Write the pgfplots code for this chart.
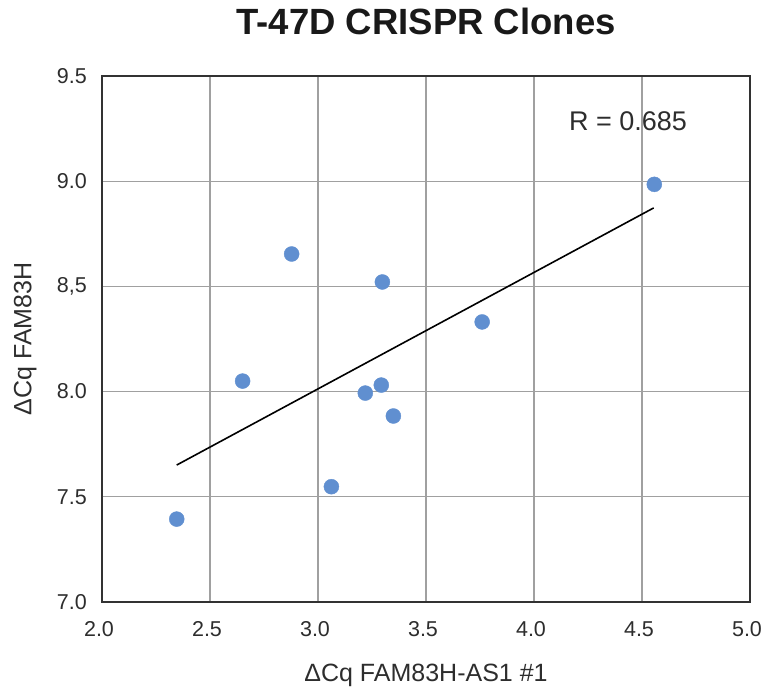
\documentclass[border=0pt]{standalone}
\usepackage{fontspec}
\setmainfont{Liberation Sans}
\usepackage{pgfplots}
\pgfplotsset{compat=1.18}
\definecolor{mblue}{RGB}{96,143,208}
\definecolor{gridgray}{RGB}{160,160,160}
\definecolor{frame}{RGB}{50,50,50}
\definecolor{txt}{RGB}{45,45,45}
\begin{document}
\begin{tikzpicture}
\useasboundingbox (-102pt,-88pt) rectangle (661pt,602pt);
\begin{axis}[
  width=648pt, height=526pt, scale only axis,
  xmin=2, xmax=5, ymin=7, ymax=9.5,
  xtick={2,2.5,3,3.5,4,4.5,5},
  xticklabels={2.0,2.5,3.0,3.5,4.0,4.5,5.0},
  ytick={7,7.5,8,8.5,9,9.5},
  yticklabels={7.0,7.5,8.0,{8,5},9.0,9.5},
  /pgf/number format/assume math mode=true,
  grid=major,
  major grid style={gridgray, line width=1.2pt},
  major tick length=0pt,
  axis line style={frame, line width=2pt},
  tick label style={font=\fontsize{21.5}{24}\selectfont, text=txt, inner sep=0pt},
  xticklabel style={anchor=base, yshift=-35pt, xshift=-3pt},
  yticklabel style={anchor=east, xshift=-15pt},
  title={T-47D CRISPR Clones},
  title style={at={(axis description cs:0.5,1.0684)}, anchor=base, font=\fontsize{36.5}{40}\selectfont\bfseries, text=black!90, inner sep=0pt},
  xlabel={ΔCq FAM83H-AS1 \#1},
  xlabel style={at={(axis description cs:0.5,-0.1502)}, anchor=base, font=\fontsize{25}{28}\selectfont, text=txt, inner sep=0pt},
  ylabel={ΔCq FAM83H},
  ylabel style={at={(axis description cs:-0.1186,0.5)}, anchor=center, font=\fontsize{25}{28}\selectfont, text=txt, inner sep=0pt},
]
\addplot[only marks, mark=*, mark size=7.5pt, mark options={fill=mblue, draw=mblue}] coordinates {
  (2.346,7.394) (2.651,8.050) (2.878,8.654) (3.062,7.548) (3.219,7.993)
  (3.293,8.031) (3.298,8.521) (3.349,7.884) (3.760,8.331) (4.557,8.985)
};
\addplot[black, line width=1.6pt] coordinates {(2.346,7.651) (4.554,8.873)};
\node[anchor=base west, inner sep=0pt, font=\fontsize{27}{30}\selectfont, text=txt] at (axis cs:4.162,9.243) {R = 0.685};
\end{axis}
\end{tikzpicture}
\end{document}
